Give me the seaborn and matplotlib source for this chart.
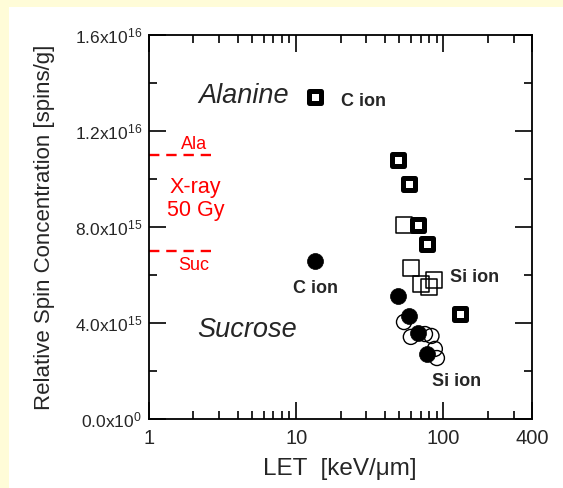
import matplotlib
matplotlib.use('Agg')
import matplotlib.pyplot as plt
from matplotlib.patches import Rectangle
import seaborn as sns

sns.set_style('ticks')
plt.rcParams['font.family'] = ['Liberation Sans', 'DejaVu Sans']
plt.rcParams['mathtext.fontset'] = 'custom'
plt.rcParams['mathtext.rm'] = 'Liberation Sans'
plt.rcParams['mathtext.it'] = 'Liberation Sans:italic'

# Alanine, thick-edged squares
ala_thick_let = [13.4, 49.0, 58.0, 66.9, 77.8, 129.0]
ala_thick_spin = [1.34e16, 1.08e16, 9.8e15, 8.08e15, 7.29e15, 4.38e15]
# Alanine, thin open squares (Si ion)
ala_open_let = [54.0, 60.4, 70.1, 79.8, 86.3]
ala_open_spin = [8.08e15, 6.30e15, 5.63e15, 5.51e15, 5.78e15]
# Sucrose, filled circles
suc_fill_let = [13.4, 49.0, 58.0, 67.5, 77.8]
suc_fill_spin = [6.6e15, 5.14e15, 4.29e15, 3.57e15, 2.69e15]
# Sucrose, open circles (Si ion)
suc_open_let = [54.0, 60.1, 75.0, 83.0, 87.5, 90.4]
suc_open_spin = [4.04e15, 3.42e15, 3.54e15, 3.46e15, 2.92e15, 2.54e15]
# X-ray 50 Gy reference levels
xray_ala = 1.1e16
xray_suc = 7.0e15

y_major = [0, 4e15, 8e15, 1.2e16, 1.6e16]
y_labels = [r'$0.0\mathrm{x}10^{0}$', r'$4.0\mathrm{x}10^{15}$', r'$8.0\mathrm{x}10^{15}$',
            r'$1.2\mathrm{x}10^{16}$', r'$1.6\mathrm{x}10^{16}$']
y_minor = [2e15, 6e15, 1e16, 1.4e16]
x_major = [1, 10, 100, 400]
x_labels = ['1', '10', '100', '400']
x_minor = [2, 3, 4, 5, 6, 7, 8, 9, 20, 30, 40, 50, 60, 70, 80, 90, 200, 300]

fig = plt.figure(figsize=(5.63, 4.88), dpi=100)
fig.patch.set_facecolor('#fffcd8')
fig.add_artist(Rectangle((9 / 563, 0), 1, 481 / 488, transform=fig.transFigure,
                         facecolor='white', edgecolor='none', zorder=0))
ax = fig.add_axes([149 / 563, 69 / 488, 383 / 563, 384 / 488])
ax.set_facecolor('white')

red = '#ff0000'
ax.plot([1, 2.64], [xray_ala, xray_ala], color=red, lw=1.7, dashes=(4.4, 2.9))
ax.plot([1, 2.64], [xray_suc, xray_suc], color=red, lw=1.7, dashes=(4.4, 2.9))

sns.scatterplot(x=ala_open_let, y=ala_open_spin, ax=ax, marker='s', s=11.5 ** 2,
                facecolor='none', edgecolor='black', linewidth=1.1, zorder=3)
sns.scatterplot(x=ala_thick_let, y=ala_thick_spin, ax=ax, marker='s', s=8.4 ** 2,
                color='white', edgecolor='black', linewidth=3.6, zorder=4)
sns.scatterplot(x=suc_fill_let, y=suc_fill_spin, ax=ax, marker='o', s=11.5 ** 2,
                color='black', edgecolor='black', linewidth=0.5, zorder=5)
sns.scatterplot(x=suc_open_let, y=suc_open_spin, ax=ax, marker='o', s=10.8 ** 2,
                facecolor='none', edgecolor='black', linewidth=1.0, zorder=6)

ax.set_xscale('log')
ax.set_xlim(1, 400)
ax.set_ylim(0, 1.6e16)
ax.set_xticks(x_major, x_labels)
ax.set_xticks(x_minor, minor=True)
ax.set_xticklabels([], minor=True)
ax.set_yticks(y_major, y_labels)
ax.set_yticks(y_minor, minor=True)
ax.tick_params(which='both', direction='in', top=True, right=True, width=1.2, color='black')
ax.tick_params(which='major', length=12)
ax.tick_params(which='minor', length=6)
ax.tick_params(axis='x', labelsize=14.5, pad=7)
ax.tick_params(axis='y', labelsize=12.5, pad=5)
for sp in ax.spines.values():
    sp.set_linewidth(1.3)
    sp.set_color('black')
ax.set_xlabel('')
ax.set_ylabel('')

fig.text(45 / 563, 1 - 227 / 488, 'Relative Spin Concentration [spins/g]', rotation=90,
         ha='center', va='center', fontsize=16)
fig.text(340 / 563, 1 - 469 / 488, 'LET  [keV/\u03bcm]', ha='center', va='center', fontsize=17.5)

ax.text(0.248, 0.842, 'Alanine', transform=ax.transAxes, ha='center', va='center',
        fontsize=19.5, style='italic')
ax.text(0.256, 0.232, 'Sucrose', transform=ax.transAxes, ha='center', va='center',
        fontsize=19.5, style='italic')
ax.text(0.561, 0.826, 'C ion', transform=ax.transAxes, ha='center', va='center',
        fontsize=13, fontweight='bold')
ax.text(0.436, 0.339, 'C ion', transform=ax.transAxes, ha='center', va='center',
        fontsize=13, fontweight='bold')
ax.text(0.849, 0.368, 'Si ion', transform=ax.transAxes, ha='center', va='center',
        fontsize=13, fontweight='bold')
ax.text(0.803, 0.097, 'Si ion', transform=ax.transAxes, ha='center', va='center',
        fontsize=13, fontweight='bold')
ax.text(0.1175, 0.716, 'Ala', transform=ax.transAxes, ha='center', va='center',
        fontsize=13, color=red)
ax.text(0.122, 0.604, 'X-ray', transform=ax.transAxes, ha='center', va='center',
        fontsize=15.5, color=red)
ax.text(0.122, 0.542, '50 Gy', transform=ax.transAxes, ha='center', va='center',
        fontsize=15.5, color=red)
ax.text(0.116, 0.399, 'Suc', transform=ax.transAxes, ha='center', va='center',
        fontsize=13, color=red)

fig.savefig('out.png', dpi=100, facecolor=fig.get_facecolor())
